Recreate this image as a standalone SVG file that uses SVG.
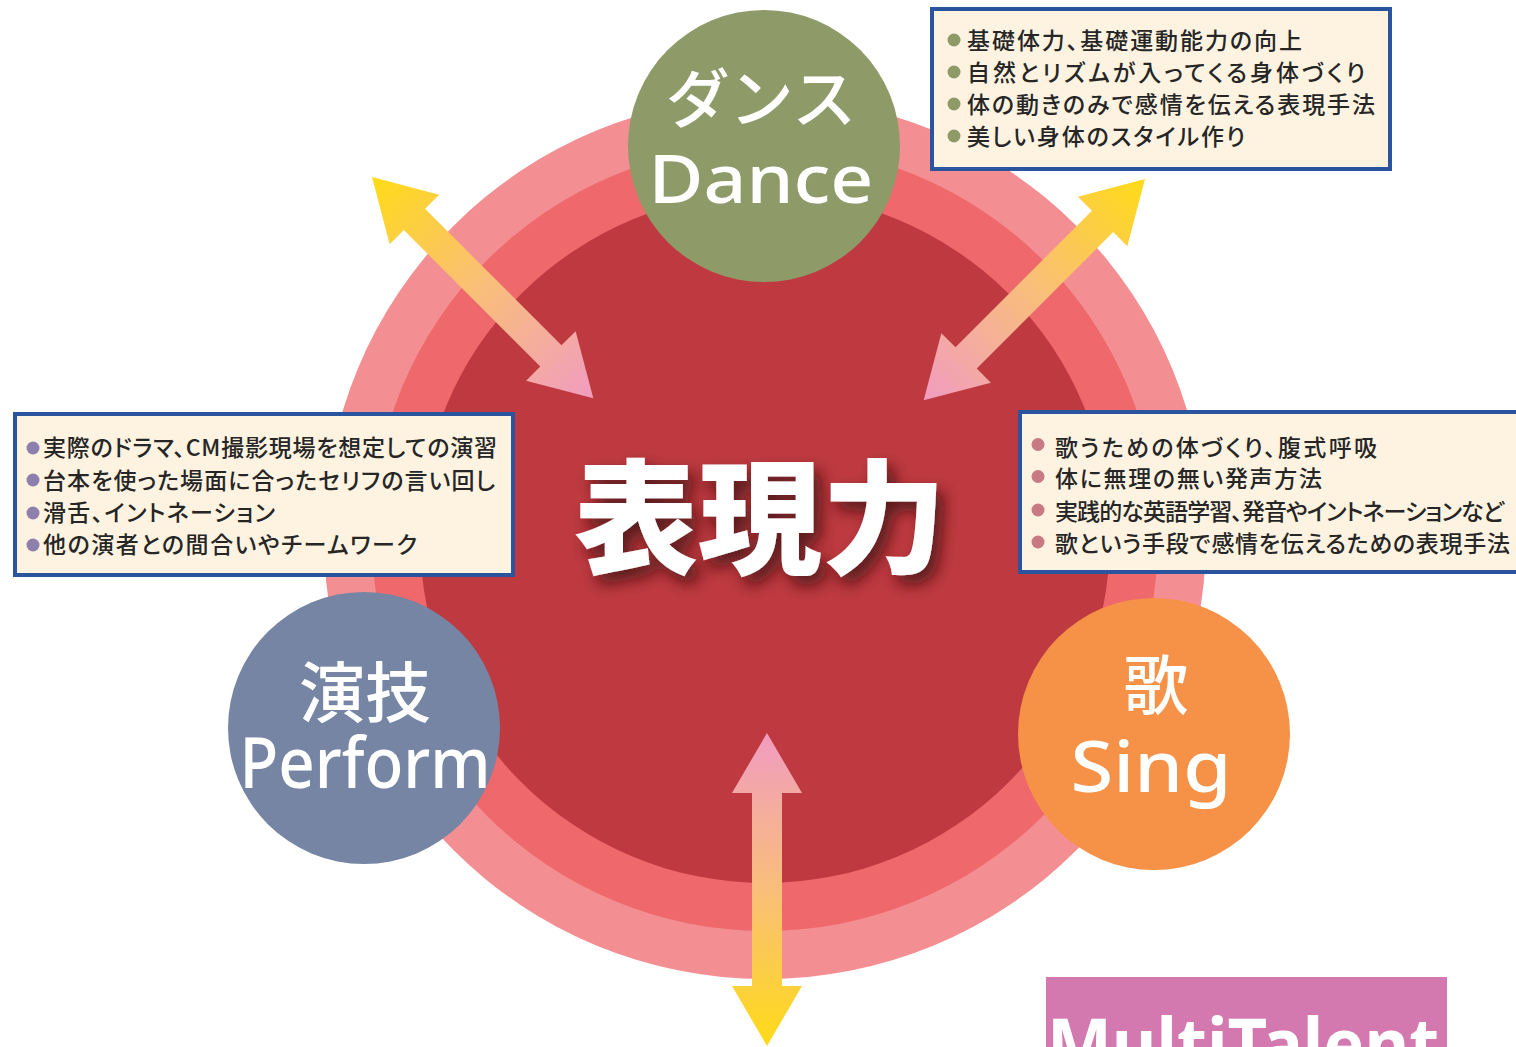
<svg xmlns="http://www.w3.org/2000/svg" width="1516" height="1047" viewBox="0 0 1516 1047">
<style>
.jp{font-family:"Noto Sans CJK JP","Noto Sans",sans-serif;}
.lat{font-family:"Noto Sans","Open Sans","Liberation Sans",sans-serif;}
.ctext{fill:#ffffff;font-weight:500;text-anchor:middle;}
.box{fill:#FEF3E1;stroke:#2A549E;stroke-width:4;}
.item{font-family:"Noto Sans CJK JP","Noto Sans",sans-serif;font-size:23px;fill:#262626;font-weight:500;font-feature-settings:"palt";}
.arrow{fill:url(#ag);}
</style>
<defs>
<linearGradient id="ag" gradientUnits="userSpaceOnUse" x1="0" y1="0" x2="313" y2="0">
<stop offset="0" stop-color="#FFDB17"/>
<stop offset="0.5" stop-color="#F9BE7A"/>
<stop offset="1" stop-color="#F09CC0"/>
</linearGradient>
<filter id="shadow" x="-20%" y="-30%" width="150%" height="170%">
<feDropShadow dx="7" dy="9" stdDeviation="8" flood-color="#3a0a0e" flood-opacity="0.8"/>
</filter>
<polygon id="arr" points="0,0 60,-35 60,-15 253,-15 253,-35 313,0 253,35 253,15 60,15 60,35"/>
</defs>
<rect width="1516" height="1047" fill="#ffffff"/>
<g id="rings">
<circle cx="765" cy="538" r="441" fill="#F38F93"/>
<circle cx="765" cy="538" r="393" fill="#EF686B"/>
<circle cx="765" cy="538" r="345" fill="#BE3A40"/>
</g>
<g id="connectors">
<use href="#arr" class="arrow" transform="translate(372,177) rotate(45)"/>
<use href="#arr" class="arrow" transform="translate(1145,179) rotate(135)"/>
<use href="#arr" class="arrow" transform="translate(767,1046) rotate(-90)"/>
</g>
<g id="node-dance">
<circle cx="764" cy="146" r="136" fill="#8E9A68"/>
<text class="jp ctext" x="761" y="122" font-size="64">ダンス</text>
<text class="lat ctext" x="761" y="203" font-size="68" textLength="225" lengthAdjust="spacingAndGlyphs">Dance</text>
</g>
<g id="node-perform">
<circle cx="364" cy="728" r="136" fill="#7585A3"/>
<text class="jp ctext" x="365" y="717" font-size="66">演技</text>
<text class="lat ctext" x="365" y="788" font-size="71" textLength="251" lengthAdjust="spacingAndGlyphs">Perform</text>
</g>
<g id="node-sing">
<circle cx="1154" cy="734" r="136" fill="#F59247"/>
<text class="jp ctext" x="1156" y="709" font-size="65">歌</text>
<text class="lat ctext" x="1151" y="792" font-size="70" textLength="161" lengthAdjust="spacingAndGlyphs">Sing</text>
</g>
<g id="node-center">
<text class="jp" x="760" y="564" font-size="124" font-weight="900" fill="#ffffff" text-anchor="middle" filter="url(#shadow)">表現力</text>
</g>
<g id="box-dance">
<rect class="box" x="932" y="9" width="458" height="160"/>
<g fill="#8E9A68">
<circle cx="954" cy="40" r="6.5"/><circle cx="954" cy="72" r="6.5"/><circle cx="954" cy="104" r="6.5"/><circle cx="954" cy="136" r="6.5"/>
</g>
<text class="item" x="967" y="49" textLength="335">基礎体力、基礎運動能力の向上</text>
<text class="item" x="967" y="81" textLength="398">自然とリズムが入ってくる身体づくり</text>
<text class="item" x="967" y="113" textLength="408">体の動きのみで感情を伝える表現手法</text>
<text class="item" x="967" y="145" textLength="278">美しい身体のスタイル作り</text>
</g>
<g id="box-perform">
<rect class="box" x="15" y="414" width="498" height="161"/>
<g fill="#8E80AC">
<circle cx="33" cy="448" r="6.5"/><circle cx="33" cy="480" r="6.5"/><circle cx="33" cy="513" r="6.5"/><circle cx="33" cy="545" r="6.5"/>
</g>
<text class="item" x="43" y="456" textLength="454">実際のドラマ、CM撮影現場を想定しての演習</text>
<text class="item" x="43" y="489" textLength="452">台本を使った場面に合ったセリフの言い回し</text>
<text class="item" x="43" y="521" textLength="232">滑舌、イントネーション</text>
<text class="item" x="43" y="553" textLength="374">他の演者との間合いやチームワーク</text>
</g>
<g id="box-sing">
<rect class="box" x="1020" y="412" width="510" height="160"/>
<g fill="#C77A82">
<circle cx="1038" cy="444.5" r="6.5"/><circle cx="1038" cy="476.5" r="6.5"/><circle cx="1038" cy="510" r="6.5"/><circle cx="1038" cy="542" r="6.5"/>
</g>
<text class="item" x="1055" y="456" textLength="322">歌うための体づくり、腹式呼吸</text>
<text class="item" x="1055" y="487" textLength="267">体に無理の無い発声方法</text>
<text class="item" x="1055" y="520" textLength="449">実践的な英語学習、発音やイントネーションなど</text>
<text class="item" x="1055" y="552" textLength="455">歌という手段で感情を伝えるための表現手法</text>
</g>
<g id="multitalent">
<rect x="1046" y="977" width="401" height="80" fill="#D478B0"/>
<text class="lat" x="1047" y="1070" font-size="72" font-weight="700" fill="#ffffff" textLength="392" lengthAdjust="spacingAndGlyphs">MultiTalent</text>
</g>
</svg>
